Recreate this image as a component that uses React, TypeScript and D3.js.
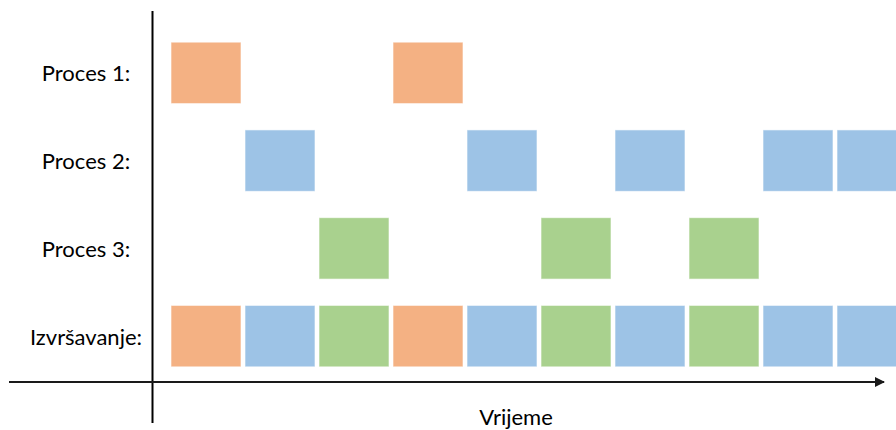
import { useMemo } from "react";
import * as d3 from "d3";

// which process runs in each time slot
const SCHEDULE = [1, 2, 3, 1, 2, 3, 2, 3, 2, 2];
const ROW_LABELS = ["Proces 1:", "Proces 2:", "Proces 3:", "Izvršavanje:"];
const PROCESS_COLORS: Record<number, string> = {
  1: "#F4B183", // orange
  2: "#9DC3E6", // blue
  3: "#A9D18E", // green
};
const AXIS_LABEL = "Vrijeme";

const W = 896;
const H = 430;
const FONT = "Lato, 'Open Sans', sans-serif";

export default function App() {
  const x = useMemo(
    () => d3.scaleLinear().domain([0, SCHEDULE.length]).range([169, 169 + 74 * SCHEDULE.length]),
    []
  );
  const y = useMemo(
    () => d3.scaleBand<number>().domain(d3.range(ROW_LABELS.length)).range([29, 380]).paddingInner(0.3).paddingOuter(0.15),
    []
  );

  const blocks: { row: number; slot: number; p: number }[] = [];
  SCHEDULE.forEach((p, slot) => {
    blocks.push({ row: p - 1, slot, p });
    blocks.push({ row: 3, slot, p });
  });

  const axisY = 382;
  const axisX = 152.5;

  return (
    <svg
      width={W}
      height={H}
      style={{ position: "absolute", left: 0, top: 0, background: "#fff" }}
      fontFamily={FONT}
    >
      <defs>
        <marker id="arrow" viewBox="0 0 10 10" refX="9" refY="5" markerWidth="5" markerHeight="5" orient="auto">
          <path d="M0,0 L10,5 L0,10 z" fill="#1a1a1a" />
        </marker>
      </defs>

      {blocks.map((b, i) => (
        <rect
          key={i}
          x={x(b.slot) + 2}
          y={y(b.row)}
          width={x(1) - x(0) - 4}
          height={y.bandwidth()}
          fill={PROCESS_COLORS[b.p]}
          stroke="#fff"
          strokeOpacity={0.6}
          strokeWidth={1}
        />
      ))}

      {ROW_LABELS.map((label, r) => (
        <text
          key={label}
          x={86}
          y={(y(r) ?? 0) + y.bandwidth() / 2}
          textAnchor="middle"
          dominantBaseline="central"
          fontSize={22}
          fill="#000"
        >
          {label}
        </text>
      ))}

      <line x1={axisX} x2={axisX} y1={11} y2={423} stroke="#000" strokeWidth={2} />
      <line x1={9} x2={884} y1={axisY} y2={axisY} stroke="#1a1a1a" strokeWidth={2} markerEnd="url(#arrow)" />

      <text x={516} y={416} textAnchor="middle" dominantBaseline="central" fontSize={22} fill="#000">
        {AXIS_LABEL}
      </text>
    </svg>
  );
}
